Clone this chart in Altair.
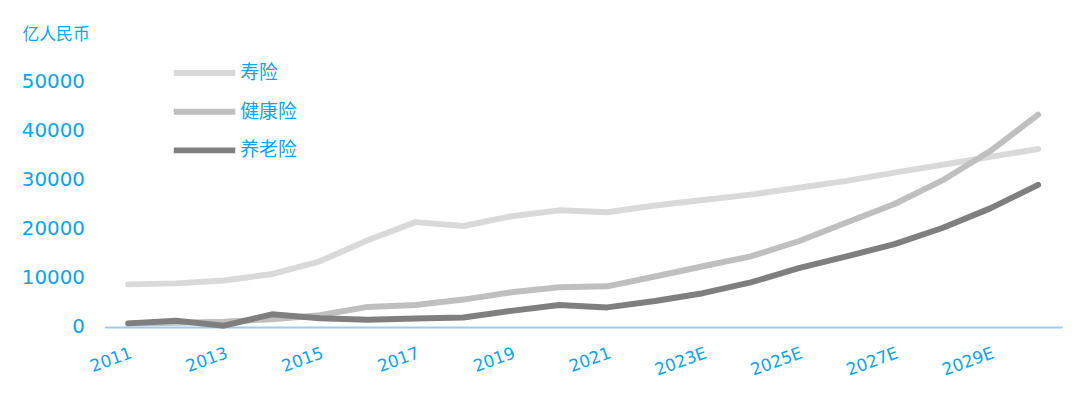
import altair as alt
import pandas as pd

years = ["2011", "2012", "2013", "2014", "2015", "2016", "2017", "2018", "2019", "2020",
         "2021", "2022", "2023E", "2024E", "2025E", "2026E", "2027E", "2028E", "2029E", "2030E"]
life = [8700, 8900, 9500, 10800, 13400, 17700, 21400, 20600, 22600, 23800,
        23400, 24800, 25900, 27000, 28400, 29800, 31500, 33100, 34700, 36300]
health = [700, 860, 1100, 1600, 2400, 4100, 4500, 5600, 7100, 8100,
          8300, 10300, 12400, 14400, 17500, 21300, 25100, 29900, 35900, 43300]
pension = [750, 1270, 270, 2600, 1800, 1500, 1750, 1950, 3300, 4500,
           4000, 5300, 6900, 9100, 12000, 14400, 16900, 20200, 24200, 29000]
series = ["寿险", "健康险", "养老险"]
colors = ["#d9d9d9", "#bfbfbf", "#7f7f7f"]
tick_years = years[::2]

rows = []
for name, vals, k in [(series[0], life, 0), (series[1], health, 1), (series[2], pension, 2)]:
    for y, v in zip(years, vals):
        rows.append({"year": y, "value": v, "series": name, "k": k})
df = pd.DataFrame(rows)

BLUE = "#0ea2ea"
FONT = "DejaVu Sans, Noto Sans CJK SC"

chart = alt.Chart(df).mark_line(strokeWidth=6, strokeCap="round", strokeJoin="round").encode(
    x=alt.X("year:N", sort=years, scale=alt.Scale(type="point", padding=0.5),
            axis=alt.Axis(title=None, values=tick_years, labelAngle=-20, labelAlign="right",
                          labelBaseline="top", labelPadding=18, ticks=False,
                          domainColor="#9ecbf2", domainWidth=2, labelColor=BLUE,
                          labelFontSize=17, labelFont=FONT, grid=False)),
    y=alt.Y("value:Q", scale=alt.Scale(domain=[0, 50000], nice=False),
            axis=alt.Axis(title="亿人民币", titleAngle=0, titleAlign="left", titleBaseline="middle",
                          titleX=-83, titleY=-48, titleColor=BLUE, titleFont=FONT,
                          titleFontSize=17, titleFontWeight="normal",
                          values=[0, 10000, 20000, 30000, 40000, 50000], format="d",
                          domain=False, ticks=False, grid=False, labelPadding=20,
                          labelColor=BLUE, labelFontSize=20, labelFont=FONT)),
    color=alt.Color("series:N", scale=alt.Scale(domain=series, range=colors),
                    legend=alt.Legend(title=None, orient="none", legendX=67, legendY=-20,
                                      symbolType="M-4,0H4", symbolSize=240,
                                      symbolStrokeWidth=6, symbolOffset=23,
                                      labelOffset=25, rowPadding=15,
                                      labelColor=BLUE, labelFontSize=19, labelFont=FONT)),
    order=alt.Order("k:Q"),
    detail="series:N",
).properties(
    width=965, height=247,
    autosize=alt.AutoSizeParams(type="none"),
    padding={"left": 97, "top": 73, "right": 10, "bottom": 60},
).configure_view(stroke=None)

chart.save("out.html", embed_options={"renderer": "svg", "actions": False})
